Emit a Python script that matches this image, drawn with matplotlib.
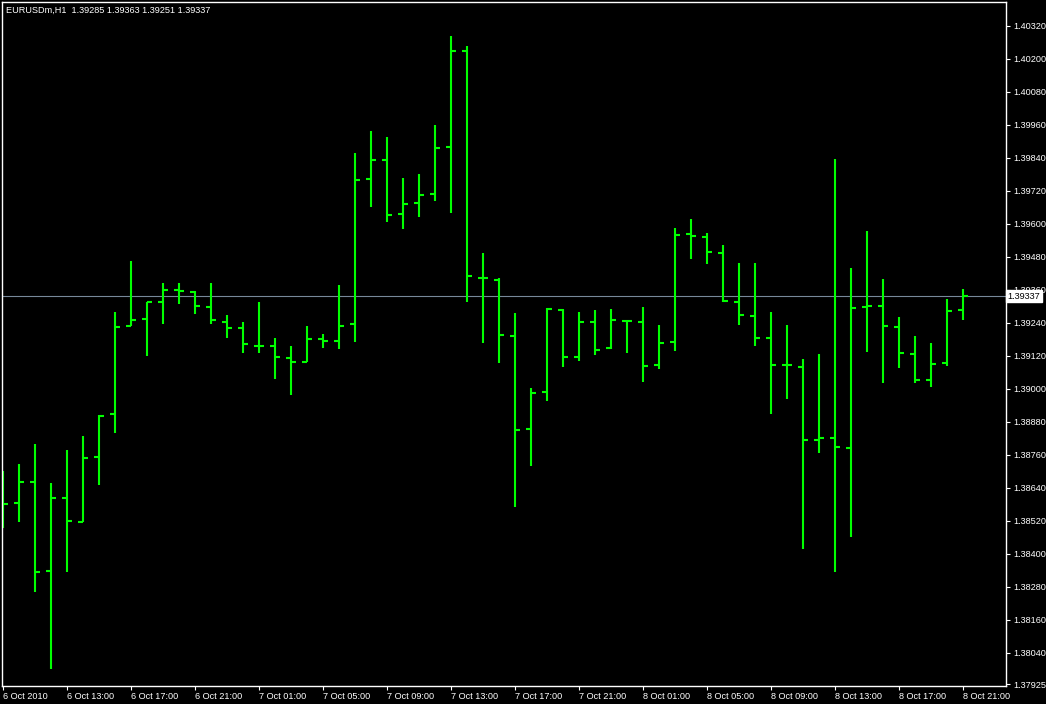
import matplotlib
matplotlib.use("Agg")
import matplotlib.pyplot as plt

# EURUSDm H1 bars, 6 Oct 09:00 .. 8 Oct 21:00 (61 bars)
opens = [1.38595, 1.38585, 1.38661, 1.38338, 1.38603, 1.38516, 1.38752, 1.38909, 1.39228, 1.39254,
         1.39316, 1.39360, 1.39353, 1.39298, 1.39244, 1.39221, 1.39156, 1.39156, 1.39113, 1.39098,
         1.39182, 1.39174, 1.39236, 1.39764, 1.39833, 1.39636, 1.39676, 1.39709, 1.39880, 1.40229,
         1.39404, 1.39396, 1.39193, 1.38854, 1.38989, 1.39287, 1.39116, 1.39244, 1.39149, 1.39247,
         1.39244, 1.39087, 1.39171, 1.39564, 1.39553, 1.39495, 1.39316, 1.39265, 1.39185, 1.39087,
         1.39080, 1.38814, 1.38822, 1.38785, 1.39298, 1.39300, 1.39225, 1.39127, 1.39033, 1.39094,
         1.39285]
highs = [1.38700, 1.38726, 1.38799, 1.38657, 1.38777, 1.38828, 1.38903, 1.39279, 1.39464, 1.39314,
         1.39384, 1.39384, 1.39354, 1.39384, 1.39267, 1.39242, 1.39315, 1.39184, 1.39155, 1.39228,
         1.39199, 1.39377, 1.39857, 1.39937, 1.39915, 1.39766, 1.39781, 1.39959, 1.40283, 1.40247,
         1.39493, 1.39402, 1.39275, 1.39002, 1.39292, 1.39289, 1.39279, 1.39286, 1.39290, 1.39247,
         1.39297, 1.39232, 1.39584, 1.39616, 1.39565, 1.39521, 1.39456, 1.39456, 1.39279, 1.39232,
         1.39108, 1.39126, 1.39835, 1.39439, 1.39573, 1.39399, 1.39261, 1.39192, 1.39166, 1.39326,
         1.39363]
lows = [1.38492, 1.38516, 1.38261, 1.37981, 1.38334, 1.38516, 1.38651, 1.38840, 1.39228, 1.39120,
        1.39236, 1.39309, 1.39273, 1.39236, 1.39185, 1.39128, 1.39129, 1.39036, 1.38978, 1.39098,
        1.39149, 1.39145, 1.39171, 1.39662, 1.39607, 1.39582, 1.39626, 1.39684, 1.39640, 1.39316,
        1.39165, 1.39094, 1.38570, 1.38720, 1.38956, 1.39080, 1.39102, 1.39124, 1.39145, 1.39131,
        1.39025, 1.39073, 1.39138, 1.39471, 1.39455, 1.39316, 1.39233, 1.39156, 1.38909, 1.38963,
        1.38418, 1.38765, 1.38334, 1.38461, 1.39134, 1.39022, 1.39076, 1.39022, 1.39007, 1.39083,
        1.39251]
closes = [1.38581, 1.38661, 1.38334, 1.38603, 1.38520, 1.38749, 1.38902, 1.39225, 1.39251, 1.39314,
          1.39360, 1.39356, 1.39302, 1.39251, 1.39222, 1.39161, 1.39156, 1.39116, 1.39098, 1.39182,
          1.39174, 1.39229, 1.39759, 1.39833, 1.39633, 1.39673, 1.39706, 1.39877, 1.40229, 1.39411,
          1.39404, 1.39196, 1.38851, 1.38985, 1.39291, 1.39116, 1.39244, 1.39142, 1.39251, 1.39247,
          1.39083, 1.39167, 1.39560, 1.39556, 1.39498, 1.39320, 1.39269, 1.39185, 1.39087, 1.39087,
          1.38814, 1.38822, 1.38789, 1.39294, 1.39302, 1.39229, 1.39131, 1.39033, 1.39091, 1.39284,
          1.39337]

price_ticks = [1.40320, 1.40200, 1.40080, 1.39960, 1.39840, 1.39720, 1.39600, 1.39480, 1.39360,
               1.39240, 1.39120, 1.39000, 1.38880, 1.38760, 1.38640, 1.38520, 1.38400, 1.38280,
               1.38160, 1.38040, 1.37925]
time_labels = ["6 Oct 2010", "6 Oct 13:00", "6 Oct 17:00", "6 Oct 21:00", "7 Oct 01:00",
               "7 Oct 05:00", "7 Oct 09:00", "7 Oct 13:00", "7 Oct 17:00", "7 Oct 21:00",
               "8 Oct 01:00", "8 Oct 05:00", "8 Oct 09:00", "8 Oct 13:00", "8 Oct 17:00",
               "8 Oct 21:00"]

title = "EURUSDm,H1  1.39285 1.39363 1.39251 1.39337"
last_close = closes[-1]

plt.rcParams['font.family'] = ['Liberation Sans', 'DejaVu Sans']
fs = 6.6
green = "#00FF00"

fig = plt.figure(figsize=(10.46, 7.04), dpi=100, facecolor="black")
ax = fig.add_axes([2 / 1046, 18 / 704, 1004 / 1046, 684 / 704], facecolor="black")

x = list(range(len(opens)))
lw = 1.5
tick = 0.3
ax.vlines(x, lows, highs, colors=green, linewidth=lw)
ax.hlines(opens, [i - tick for i in x], x, colors=green, linewidth=lw)
ax.hlines(closes, x, [i + tick for i in x], colors=green, linewidth=lw)

# last price line
ax.axhline(last_close, color="#778899", linewidth=0.8, zorder=1)

ax.set_xlim(-0.0625, 62.6875)
ax.set_ylim(1.379182, 1.404066)

for s in ax.spines.values():
    s.set_color("white")
    s.set_linewidth(1)

ax.yaxis.tick_right()
ax.set_yticks(price_ticks)
ax.set_yticklabels([f"{p:.5f}" for p in price_ticks])
ax.set_xticks(list(range(0, len(opens), 4)))
ax.set_xticklabels(time_labels, ha="left")
ax.tick_params(colors="white", labelsize=fs, length=3, width=0.8, pad=1.5)
ax.tick_params(axis="y", pad=2)

ax.text(0.004, 0.995, title, transform=ax.transAxes, color="white", fontsize=fs,
        va="top", ha="left")

ax.text(1.0015, last_close, f"{last_close:.5f}", transform=ax.get_yaxis_transform(),
        color="black", fontsize=fs, va="center", ha="left", clip_on=False, zorder=5,
        bbox=dict(facecolor="white", edgecolor="white", boxstyle="square,pad=0.2"))

fig.savefig("out.png", dpi=100, facecolor="black")
